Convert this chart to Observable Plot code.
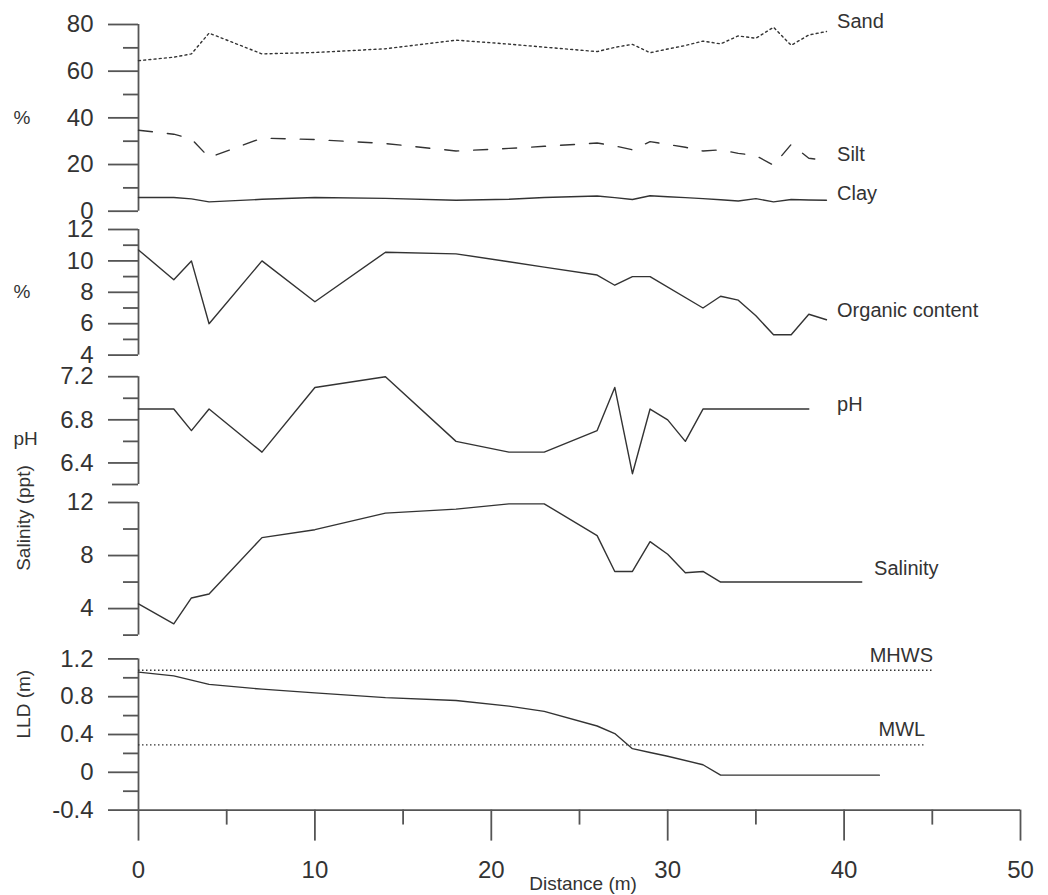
<!DOCTYPE html>
<html>
<head>
<meta charset="utf-8">
<script src="https://cdn.jsdelivr.net/npm/d3@7"></script>
<script src="https://cdn.jsdelivr.net/npm/@observablehq/plot@0.6"></script>
<style>
  body { margin: 0; background: #fff; }
  #chart { position: relative; width: 1048px; height: 895px; font-family: "Liberation Sans", Arial, sans-serif; }
  #chart svg { position: absolute; left: 0; top: 0; overflow: visible; }
</style>
</head>
<body>
<div id="chart"></div>
<script>
// Sediment profile along the transect (distance in m)
const grainDist = [0, 2, 3, 4, 7, 10, 14, 18, 21, 23, 26, 27, 28, 29, 30, 31, 32, 33, 34, 35, 36, 37, 38, 39];
const sand = [64.5, 66, 67.4, 76.3, 67.4, 68, 69.6, 73.3, 71.6, 70.3, 68.4, 70.2, 71.5, 67.9, 69.5, 71, 72.9, 71.7, 75.1, 74.1, 78.8, 71.1, 75.5, 77];
const silt = [34.7, 33, 31, 23, 31.3, 30.7, 29, 25.8, 26.9, 27.8, 29.2, 28, 26.3, 29.8, 28.6, 27.4, 25.8, 26.3, 24.8, 23.8, 19.7, 28.6, 22.7, 21.7];
const clay = [5.9, 5.9, 5.3, 4.0, 5.1, 5.9, 5.5, 4.7, 5.1, 5.9, 6.5, 5.8, 5.0, 6.6, 6.2, 5.8, 5.4, 4.9, 4.4, 5.4, 4.0, 5.0, 4.8, 4.7];

const organicDist = [0, 2, 3, 4, 7, 10, 14, 18, 21, 23, 26, 27, 28, 29, 32, 33, 34, 35, 36, 37, 38, 39];
const organic = [10.7, 8.8, 10.0, 6.0, 10.0, 7.4, 10.55, 10.45, 9.95, 9.6, 9.1, 8.45, 9.0, 9.0, 7.0, 7.75, 7.5, 6.5, 5.3, 5.3, 6.6, 6.25];

const phDist = [0, 2, 3, 4, 7, 10, 14, 18, 21, 23, 26, 27, 28, 29, 30, 31, 32, 38];
const ph = [6.9, 6.9, 6.7, 6.9, 6.5, 7.1, 7.2, 6.6, 6.5, 6.5, 6.7, 7.1, 6.3, 6.9, 6.8, 6.6, 6.9, 6.9];

const salDist = [0, 2, 3, 4, 7, 10, 14, 18, 21, 23, 26, 27, 28, 29, 30, 31, 32, 33, 41];
const salinity = [4.35, 2.85, 4.8, 5.1, 9.35, 9.95, 11.2, 11.5, 11.9, 11.9, 9.5, 6.8, 6.8, 9.05, 8.1, 6.7, 6.8, 6.0, 6.0];

const lldDist = [0, 2, 4, 7, 10, 14, 18, 21, 23, 26, 27, 28, 29, 30, 32, 33, 42];
const lld = [1.06, 1.02, 0.93, 0.88, 0.84, 0.79, 0.76, 0.70, 0.645, 0.49, 0.41, 0.25, 0.21, 0.17, 0.08, -0.03, -0.03];

// Tidal reference levels (m) and how far along the transect they are drawn
const tideLevels = [
  {name: "MHWS", level: 1.08, end: 45},
  {name: "MWL", level: 0.29, end: 44.6}
];

const distanceTicks = [0, 10, 20, 30, 40, 50];
const distanceMinor = [5, 15, 25, 35, 45];

const W = 1048, H = 895;
const FONT = "'Liberation Sans', Arial, sans-serif";
const INK = "#333";
const AXIS = "#555";

const rows = (xs, ys) => xs.map((x, i) => ({x, y: ys[i]}));
const fmt = d => String(d);

function panel({top, bottom, domain, major, minor, extraTicks = [], marks}) {
  return Plot.plot({
    width: W,
    height: H,
    marginLeft: 138,
    marginRight: 28,
    marginTop: top,
    marginBottom: H - bottom,
    x: {domain: [0, 50], axis: null, label: null},
    y: {domain, axis: null, label: null},
    style: {background: "transparent", fontFamily: FONT, color: INK, overflow: "visible"},
    marks: [
      Plot.ruleX([0], {y1: domain[0], y2: domain[1], stroke: AXIS, strokeWidth: 1.8}),
      Plot.axisY(major, {anchor: "left", tickSize: 30, tickPadding: 15, fontSize: 24, stroke: AXIS, strokeWidth: 1.8, fill: INK, tickFormat: fmt, label: null}),
      Plot.axisY(minor, {anchor: "left", tickSize: 15, stroke: AXIS, strokeWidth: 1.8, tickFormat: () => "", label: null}),
      ...extraTicks,
      ...marks
    ]
  });
}

const seriesLine = (xs, ys, dash) =>
  Plot.line(rows(xs, ys), {x: "x", y: "y", stroke: INK, strokeWidth: 1.4, strokeDasharray: dash});

const label = (text, x, y) =>
  Plot.text([text], {x, y, text: d => d, textAnchor: "start", fontSize: 20, fill: INK});

const yTitle = (text, opts = {}) =>
  Plot.text([text], {frameAnchor: "left", text: d => d, textAnchor: "start", dx: -125, fontSize: 19, fill: INK, ...opts});

const yTitleRotated = (text, dy) =>
  Plot.text([text], {frameAnchor: "left", text: d => d, rotate: -90, dx: -115, dy, fontSize: 19, fill: INK});

const chart = document.getElementById("chart");

// Grain size (%)
chart.appendChild(panel({
  top: 24, bottom: 210.7, domain: [0, 80],
  major: [0, 20, 40, 60, 80], minor: [10, 30, 50, 70],
  marks: [
    seriesLine(grainDist, sand, "2,3.2"),
    seriesLine(grainDist, silt, "14,15"),
    seriesLine(grainDist, clay, null),
    label("Sand", 39.6, 81.1),
    label("Silt", 39.6, 24.2),
    label("Clay", 39.6, 7.7),
    yTitle("%")
  ]
}));

// Organic content (%)
chart.appendChild(panel({
  top: 229, bottom: 354.6, domain: [4, 12],
  major: [4, 6, 8, 10, 12], minor: [5, 7, 9, 11],
  marks: [
    seriesLine(organicDist, organic, null),
    label("Organic content", 39.6, 6.85),
    yTitle("%")
  ]
}));

// pH
chart.appendChild(panel({
  top: 376.2, bottom: 484, domain: [6.2, 7.2],
  major: [6.4, 6.8, 7.2], minor: [6.6, 7.0],
  extraTicks: [Plot.axisY([6.2], {anchor: "left", tickSize: 26, stroke: AXIS, strokeWidth: 1.8, tickFormat: () => "", label: null})],
  marks: [
    seriesLine(phDist, ph, null),
    label("pH", 39.6, 6.94),
    yTitle("pH", {dy: 8})
  ]
}));

// Salinity (ppt)
chart.appendChild(panel({
  top: 502, bottom: 634.6, domain: [2, 12],
  major: [4, 8, 12], minor: [2, 6, 10],
  marks: [
    seriesLine(salDist, salinity, null),
    label("Salinity", 41.7, 6.98),
    yTitleRotated("Salinity (ppt)", 2)
  ]
}));

// Elevation above lowest low datum (m) with the distance axis
chart.appendChild(panel({
  top: 658.4, bottom: 809.6, domain: [-0.4, 1.2],
  major: [-0.4, 0, 0.4, 0.8, 1.2], minor: [-0.2, 0.2, 0.6, 1.0],
  marks: [
    Plot.ruleY(tideLevels, {y: "level", x1: 0, x2: "end", stroke: INK, strokeWidth: 1.3, strokeDasharray: "1.5,2.5"}),
    seriesLine(lldDist, lld, null),
    label("MHWS", 41.45, 1.236),
    label("MWL", 41.95, 0.456),
    Plot.ruleY([-0.4], {x1: 0, x2: 50, stroke: AXIS, strokeWidth: 1.8}),
    Plot.axisX(distanceTicks, {anchor: "bottom", tickSize: 31, tickPadding: 20, fontSize: 24, stroke: AXIS, strokeWidth: 1.8, fill: INK, tickFormat: fmt, label: null}),
    Plot.axisX(distanceMinor, {anchor: "bottom", tickSize: 15, stroke: AXIS, strokeWidth: 1.8, tickFormat: () => "", label: null}),
    Plot.text(["Distance (m)"], {x: 25.2, y: -0.4, dy: 74, text: d => d, fontSize: 19, fill: INK}),
    yTitleRotated("LLD (m)", 4)
  ]
}));
</script>
</body>
</html>
